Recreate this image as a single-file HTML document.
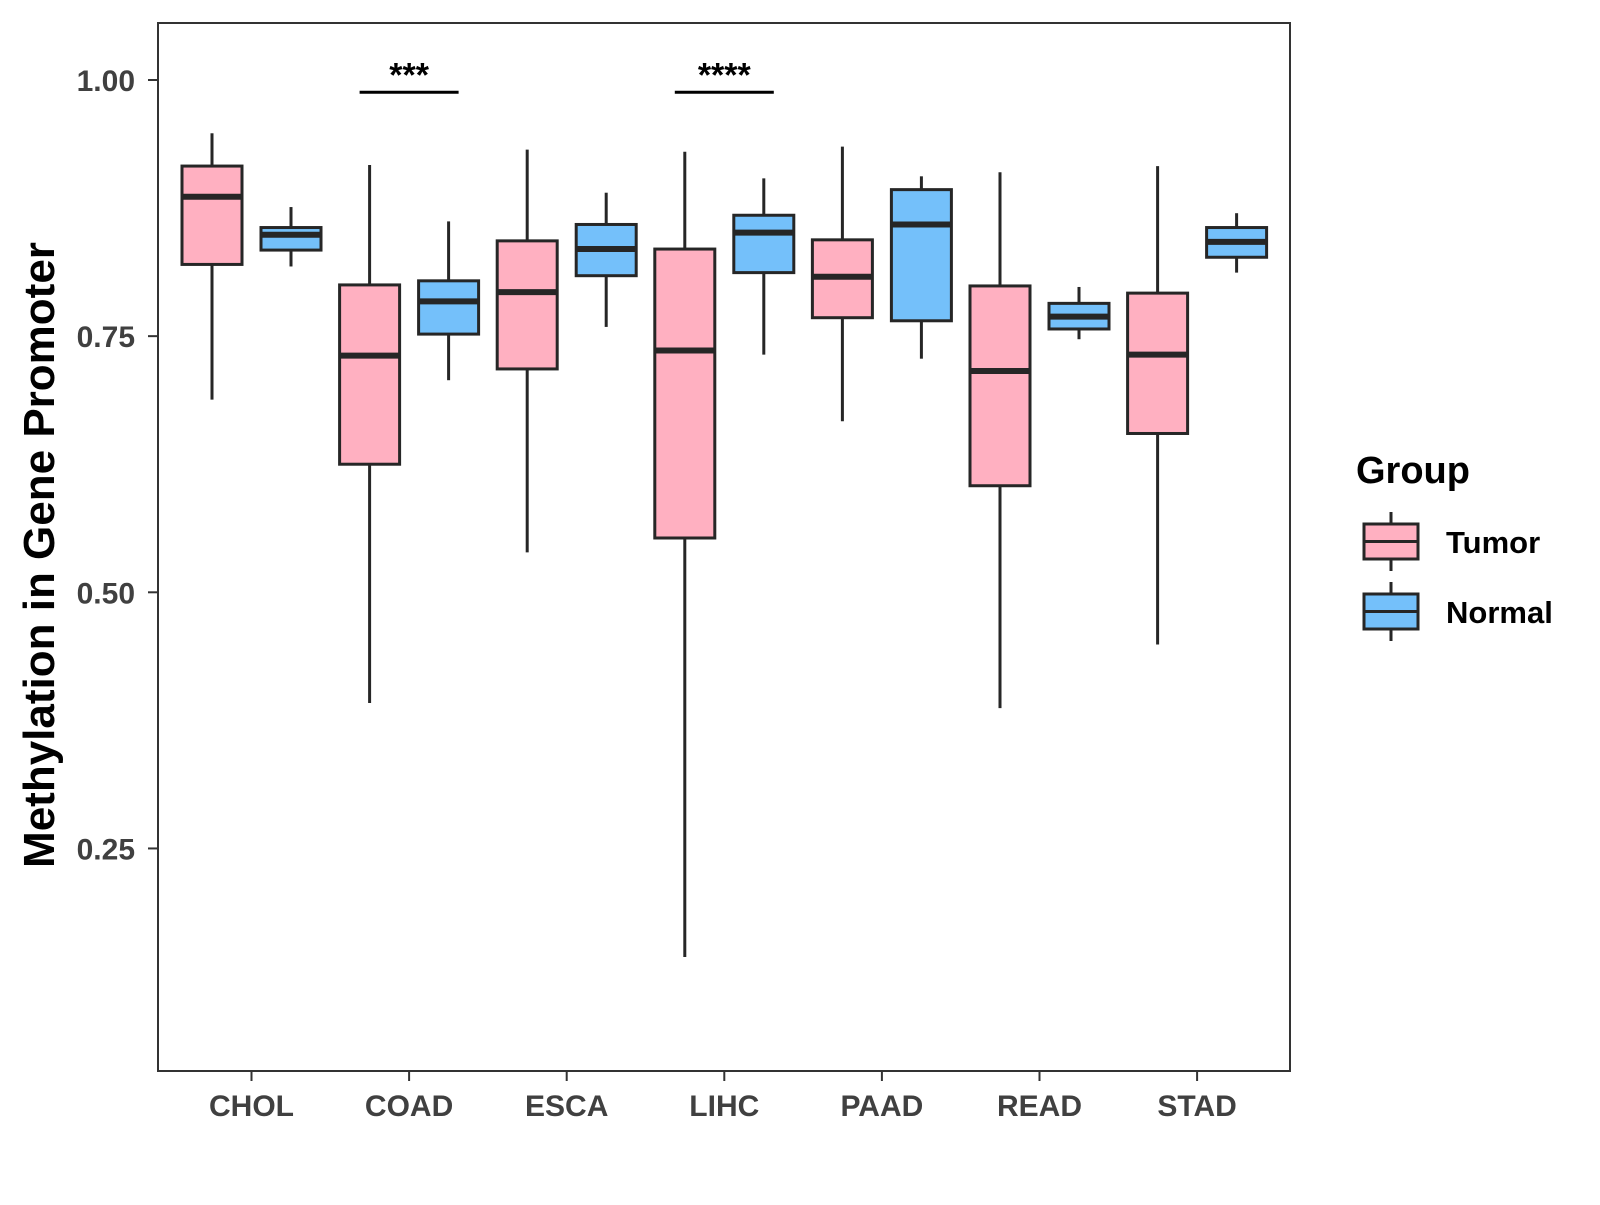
<!DOCTYPE html>
<html><head><meta charset="utf-8"><style>
body{margin:0;background:#fff}
svg text{font-family:"Liberation Sans",Arial,sans-serif;font-weight:bold}
</style></head><body>
<svg id="chart" width="1600" height="1200" xmlns="http://www.w3.org/2000/svg">
<rect x="158" y="23" width="1132" height="1048" fill="#fff" stroke="#333" stroke-width="2"/>
<g id="marks"></g>
<text transform="translate(54,555) rotate(-90)" text-anchor="middle" font-size="44" fill="#000">Methylation in Gene Promoter</text>
<g transform="translate(-7,-3)">
<text x="1363" y="486" font-size="38" fill="#000">Group</text>
<g>
<line x1="1398" y1="515" x2="1398" y2="574" stroke="#262626" stroke-width="3"/>
<rect x="1371" y="527" width="54" height="35" fill="#FFB0C1" stroke="#262626" stroke-width="3"/>
<line x1="1371" y1="544.5" x2="1425" y2="544.5" stroke="#262626" stroke-width="3"/>
<text x="1453" y="556" font-size="31" fill="#000">Tumor</text></g>
<g>
<line x1="1398" y1="585" x2="1398" y2="644" stroke="#262626" stroke-width="3"/>
<rect x="1371" y="597" width="54" height="35" fill="#74C0FA" stroke="#262626" stroke-width="3"/>
<line x1="1371" y1="614.5" x2="1425" y2="614.5" stroke="#262626" stroke-width="3"/>
<text x="1453" y="626" font-size="31" fill="#000">Normal</text></g>
</g>
</svg>
<script>
const categories=["CHOL","COAD","ESCA","LIHC","PAAD","READ","STAD"];
const yTicks=[0.25,0.5,0.75,1.0];
const yTickLabels=["0.25","0.50","0.75","1.00"];
// [low, q1, median, q3, high]
const tumorStats=[[0.688,0.820,0.886,0.916,0.948],[0.392,0.625,0.731,0.800,0.917],[0.539,0.718,0.793,0.843,0.932],[0.144,0.553,0.736,0.835,0.930],[0.667,0.768,0.808,0.844,0.935],[0.387,0.604,0.716,0.799,0.910],[0.449,0.655,0.732,0.792,0.916]];
const normalStats=[[0.818,0.834,0.849,0.856,0.876],[0.707,0.752,0.784,0.804,0.862],[0.759,0.809,0.835,0.859,0.890],[0.732,0.812,0.851,0.868,0.904],[0.728,0.765,0.859,0.893,0.906],[0.747,0.757,0.769,0.782,0.798],[0.812,0.827,0.842,0.856,0.870]];
const sigCategories=["COAD","LIHC"];
const sigLabels=["***","****"];
const sigLevel=0.988;

const NS="http://www.w3.org/2000/svg";
const g=document.getElementById('marks');
function y(v){return 80+(1-v)*1024.6;}
function x(i){return 251.5+i*157.6;}
function mk(tag,attrs,parent){const e=document.createElementNS(NS,tag);for(const k in attrs)e.setAttribute(k,attrs[k]);(parent||g).appendChild(e);return e;}
yTicks.forEach((t,i)=>{
  const tk=mk('line',{x1:148,x2:158,y1:y(t),y2:y(t),stroke:'#333','stroke-width':2});
  
  
  const tx=mk('text',{x:135,y:y(t)+11,'text-anchor':'end','font-size':30,fill:'#404040'});
  tx.textContent=yTickLabels[i];
  
  
});
categories.forEach((c,i)=>{
  const tk=mk('line',{x1:x(i),x2:x(i),y1:1071,y2:1081,stroke:'#333','stroke-width':2});
  
  
  const tx=mk('text',{x:x(i),y:1116,'text-anchor':'middle','font-size':30,fill:'#404040'});
  tx.textContent=c;
  
  
});
function box(cx,s,fill,name){
  const grp=mk('g',{});
  
  
  const w=60;
  mk('line',{x1:cx,x2:cx,y1:y(s[4]),y2:y(s[3]),stroke:'#262626','stroke-width':3},grp);
  mk('line',{x1:cx,x2:cx,y1:y(s[1]),y2:y(s[0]),stroke:'#262626','stroke-width':3},grp);
  mk('rect',{x:cx-w/2,y:y(s[3]),width:w,height:y(s[1])-y(s[3]),fill:fill,stroke:'#262626','stroke-width':3},grp);
  mk('line',{x1:cx-w/2,x2:cx+w/2,y1:y(s[2]),y2:y(s[2]),stroke:'#262626','stroke-width':6},grp);
}
categories.forEach((c,i)=>{
  box(x(i)-39.5,tumorStats[i],'#FFB0C1','box-tumor-'+c.toLowerCase());
  box(x(i)+39.5,normalStats[i],'#74C0FA','box-normal-'+c.toLowerCase());
});
sigCategories.forEach((c,k)=>{
  const i=categories.indexOf(c);
  const l=mk('line',{x1:x(i)-39.5-10,x2:x(i)+39.5+10,y1:y(sigLevel),y2:y(sigLevel),stroke:'#000','stroke-width':3});
  
  
  const t=mk('text',{x:x(i),y:y(sigLevel)-6,'text-anchor':'middle','font-size':34,fill:'#000'});
  t.textContent=sigLabels[k];
  
  
});
</script>
</body></html>
